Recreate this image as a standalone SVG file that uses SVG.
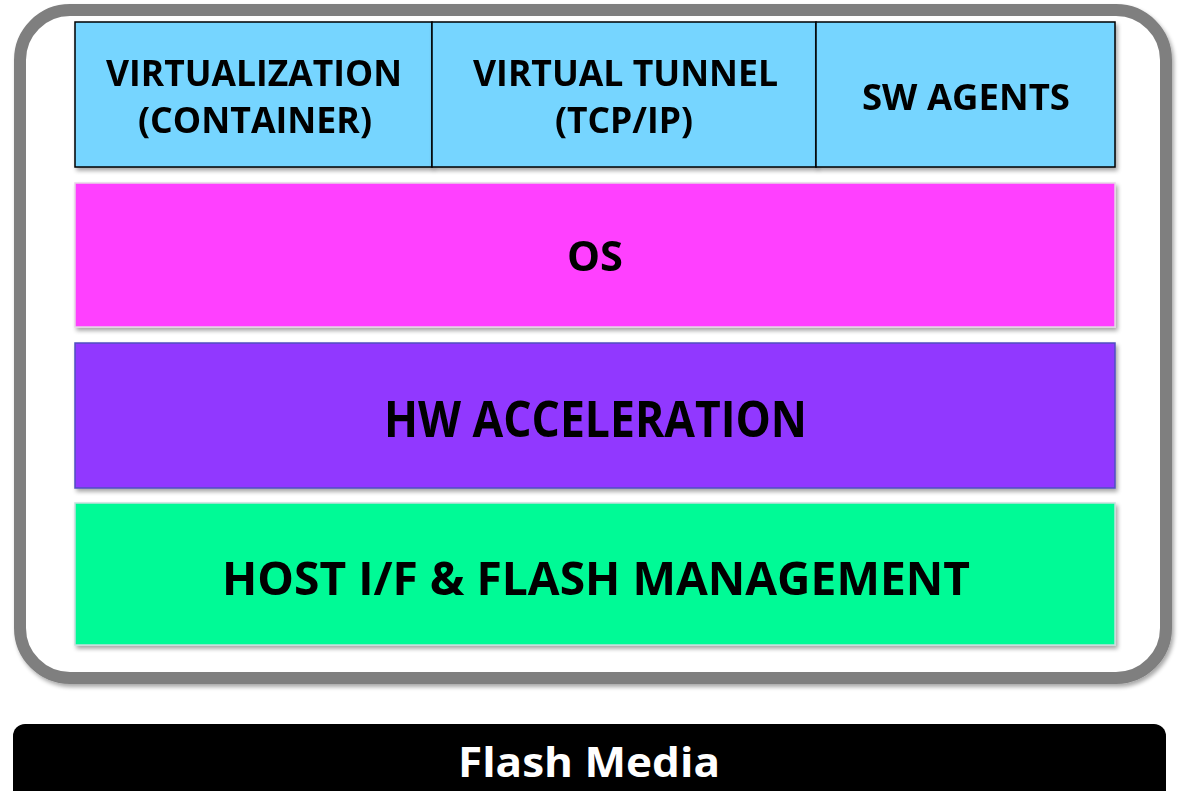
<svg xmlns="http://www.w3.org/2000/svg" width="1184" height="791" viewBox="0 0 1184 791">
  <defs>
    <filter id="shadow" x="-5%" y="-5%" width="110%" height="115%">
      <feGaussianBlur in="SourceAlpha" stdDeviation="2"/>
      <feOffset dx="2" dy="3" result="off"/>
      <feComponentTransfer><feFuncA type="linear" slope="0.35"/></feComponentTransfer>
      <feMerge><feMergeNode/><feMergeNode in="SourceGraphic"/></feMerge>
    </filter>
  </defs>
  <style>
    .lbl { font-family: "Open Sans", Lato, "Liberation Sans", sans-serif; font-weight: bold; fill: #000; text-anchor: middle; }
    .top { fill: #76d5ff; stroke: #000; stroke-width: 1.5; }
  </style>
  <rect width="1184" height="791" fill="#fff"/>

  <!-- controller frame -->
  <g id="frame" filter="url(#shadow)">
    <rect x="20" y="10" width="1146" height="668" rx="50" fill="#fff" stroke="#7f7f7f" stroke-width="12"/>
  </g>

  <!-- upper software services -->
  <g id="virtualization" filter="url(#shadow)">
    <rect class="top" x="75" y="22" width="357" height="145"/>
    <text class="lbl" x="254" y="86" font-size="36" textLength="296" lengthAdjust="spacingAndGlyphs">VIRTUALIZATION</text>
    <text class="lbl" x="255" y="133" font-size="36" textLength="234" lengthAdjust="spacingAndGlyphs">(CONTAINER)</text>
  </g>
  <g id="tunnel" filter="url(#shadow)">
    <rect class="top" x="432" y="22" width="384" height="145"/>
    <text class="lbl" x="625.5" y="86" font-size="36" textLength="305" lengthAdjust="spacingAndGlyphs">VIRTUAL TUNNEL</text>
    <text class="lbl" x="624" y="133" font-size="36" textLength="138" lengthAdjust="spacingAndGlyphs">(TCP/IP)</text>
  </g>
  <g id="agents" filter="url(#shadow)">
    <rect class="top" x="816" y="22" width="299" height="145"/>
    <text class="lbl" x="966" y="110" font-size="35" textLength="208" lengthAdjust="spacingAndGlyphs">SW AGENTS</text>
  </g>

  <!-- operating system -->
  <g id="os" filter="url(#shadow)">
    <rect x="75" y="183" width="1040" height="144" fill="#ff40ff" stroke="#e6d6e6" stroke-width="1.5"/>
    <text class="lbl" x="595" y="271" font-size="41" textLength="56" lengthAdjust="spacingAndGlyphs">OS</text>
  </g>

  <!-- hardware acceleration -->
  <g id="hw" filter="url(#shadow)">
    <rect x="75" y="343" width="1040" height="145" fill="#9137ff" stroke="#4f4fc0" stroke-width="1.5"/>
    <text class="lbl" x="595.5" y="437" font-size="50" textLength="423" lengthAdjust="spacingAndGlyphs">HW ACCELERATION</text>
  </g>

  <!-- host interface and flash management -->
  <g id="host" filter="url(#shadow)">
    <rect x="75" y="503" width="1040" height="142" fill="#00fa96" stroke="#c8dede" stroke-width="1.5"/>
    <text class="lbl" x="596" y="595" font-size="47" textLength="748" lengthAdjust="spacingAndGlyphs">HOST I/F &amp; FLASH MANAGEMENT</text>
  </g>

  <!-- storage media bar -->
  <g id="media">
    <rect x="13" y="724" width="1153" height="90" rx="12" fill="#000"/>
    <text class="lbl" x="589" y="777" font-size="42" textLength="262" lengthAdjust="spacingAndGlyphs" style="fill:#fff">Flash Media</text>
  </g>

  <g id="connectors"/>
</svg>
